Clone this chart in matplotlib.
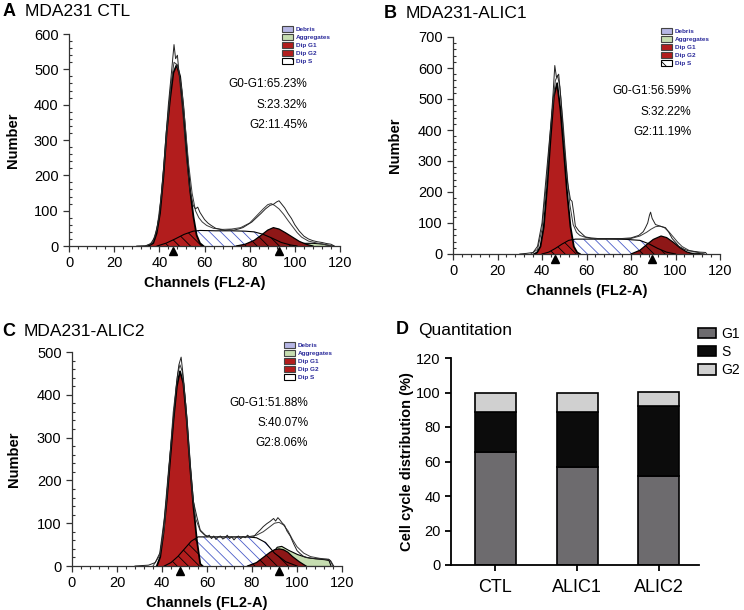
import numpy as np
import matplotlib
matplotlib.use("Agg")
import matplotlib.pyplot as plt
from matplotlib.patches import Patch
from matplotlib.ticker import MultipleLocator

plt.rcParams['font.family'] = ['Liberation Sans', 'DejaVu Sans']
plt.rcParams['hatch.linewidth'] = 0.6

# ---- cell-cycle percentages (G0-G1, S, G2) ----
groups = ["CTL", "ALIC1", "ALIC2"]
g1_pct = [65.23, 56.59, 51.88]
s_pct = [23.32, 32.22, 40.07]
g2_pct = [11.45, 11.19, 8.06]

# ---- panel A: MDA231 CTL ----
ctl_raw_ch = [30, 34, 36, 38, 40, 42, 44, 45.5, 46.5, 47.2, 48, 49, 50.5, 52, 53.5, 55, 56, 57, 58, 59,
              60, 61.5, 63, 65, 67, 69, 71, 73, 75, 77, 79, 81, 83, 85, 87, 89, 90.5, 92, 93, 94,
              95.5, 97, 98.5, 100, 102, 104, 106, 108, 110, 112, 114, 116, 117.5]
ctl_raw_n = [0, 1, 5, 25, 85, 230, 400, 500, 570, 530, 540, 470, 370, 250, 160, 115, 105, 110, 95, 85,
             75, 65, 58, 50, 47, 44, 46, 45, 48, 52, 60, 68, 80, 92, 105, 115, 118, 125, 128, 120,
             108, 92, 78, 60, 42, 28, 20, 15, 12, 10, 7, 5, 0]
ctl_fit_ch = [34, 37, 39, 41, 43, 45, 46.5, 47.5, 48.5, 50, 51.5, 53, 54.5, 56, 57.5, 59, 61, 64, 68, 72,
              76, 80, 83, 86, 88, 89.5, 91, 93, 95, 97, 99, 101, 103, 106, 110, 114, 117]
ctl_fit_n = [0, 10, 50, 150, 300, 450, 520, 515, 500, 440, 340, 230, 150, 100, 80, 68, 58, 50, 47, 48,
             52, 65, 85, 105, 117, 120, 115, 105, 90, 72, 55, 38, 25, 14, 8, 3, 0]
ctl_g1_ch = [35, 37.3, 38.8, 40.3, 41.8, 43.2, 44.7, 46.2, 47.7, 49.2, 50.6, 52.1, 53.6, 55.1, 56.5, 58, 59.5]
ctl_g1_n = [0, 8, 36, 93, 197, 320, 414, 490, 513, 480, 395, 272, 159, 83, 31, 8, 0]
ctl_s_ch = [39, 43, 47, 51, 55, 58, 65, 72, 78, 82, 86, 90, 94, 98, 101]
ctl_s_n = [0, 8, 20, 33, 42, 44, 43, 43, 42, 40, 33, 22, 10, 3, 0]
ctl_g2_ch = [74, 78, 82, 85, 88, 90.5, 93, 96, 99, 102, 105, 108]
ctl_g2_n = [0, 5, 16, 30, 45, 52, 48, 37, 25, 13, 5, 0]
ctl_agg_ch = [95, 100, 104, 108, 112, 115, 117]
ctl_agg_n = [0, 6, 9, 9, 7, 3, 0]
ctl_marks = [46, 93]

# ---- panel B: MDA231-ALIC1 ----
a1_raw_ch = [30, 33, 36, 38, 40, 42, 44, 45, 45.75, 46.5, 47.5, 48.5, 50, 51.5, 52.8, 53.5, 54.3, 55, 56.5, 58,
             59.5, 62, 65, 68.5, 72, 76, 80, 83.5, 85.5, 86.5, 87.5, 88.3, 88.8, 89.5, 91, 93, 95.5, 97, 98.5, 100,
             101.5, 104, 106, 109, 111, 113.5, 114]
a1_raw_n = [0, 2, 5, 25, 100, 260, 420, 520, 608, 570, 580, 500, 350, 230, 175, 170, 130, 90, 75, 65,
            55, 52, 50, 50, 50, 50, 52, 60, 72, 85, 100, 125, 135, 115, 95, 90, 85, 70, 50, 38,
            25, 15, 10, 8, 6, 5, 0]
a1_fit_ch = [35, 38, 40, 42, 44, 46, 47, 48, 49.5, 51, 52.5, 54, 55.5, 57, 59, 62, 66, 70, 75, 80,
             84, 87, 89, 91, 93, 95, 97, 99, 101, 103, 106, 110, 113]
a1_fit_n = [0, 15, 80, 230, 420, 560, 575, 540, 420, 280, 160, 95, 70, 60, 55, 50, 48, 48, 48, 50,
            58, 70, 80, 88, 90, 85, 72, 55, 38, 24, 12, 5, 0]
a1_g1_ch = [36.5, 37.8, 39.3, 40.8, 42.3, 43.8, 45.3, 46.8, 48.3, 49.8, 51.3, 52.8, 54.3, 55.8, 57]
a1_g1_n = [0, 5, 24, 88, 217, 368, 508, 551, 465, 336, 196, 88, 24, 5, 0]
a1_s_ch = [40, 43, 46, 49, 52, 55, 60, 70, 78, 84, 88, 92, 96, 100]
a1_s_n = [0, 6, 18, 32, 44, 48, 48, 48, 47, 44, 33, 18, 6, 0]
a1_g2_ch = [80, 84, 87, 90, 93.5, 96, 99, 102, 105, 108]
a1_g2_n = [0, 12, 30, 47, 58, 53, 38, 20, 7, 0]
a1_agg_ch = [100, 105, 110, 113]
a1_agg_n = [0, 4, 4, 0]
a1_marks = [45.75, 89.3]

# ---- panel C: MDA231-ALIC2 ----
a2_raw_ch = [28, 34, 37, 39, 41, 43, 45, 46.5, 47.5, 48.5, 49.5, 51, 52.5, 54, 55.5, 57, 58.5, 60, 61, 62,
             63, 64, 65, 66, 67, 68, 69, 70, 71, 72, 73, 74, 75, 76, 77, 78, 79, 80.7, 82, 83.6,
             85, 86.6, 88, 89.6, 90.5, 91.5, 92.5, 93.5, 94.5, 95.5, 97, 98.5, 100, 101.4, 103, 104.4, 106, 109, 112, 114,
             115, 116.3]
a2_raw_n = [0, 2, 8, 30, 110, 230, 340, 430, 470, 488, 440, 350, 240, 150, 115, 84, 76, 68, 72, 64,
            70, 62, 68, 70, 63, 66, 72, 64, 68, 61, 67, 70, 64, 69, 66, 72, 68, 68, 76, 84,
            92, 99, 104, 111, 105, 113, 107, 100, 95, 82, 70, 52, 36, 29, 22, 20, 18, 17, 16, 16,
            12, 0]
a2_fit_ch = [36, 39, 41, 43, 45, 47, 48, 49, 50.5, 52, 53.5, 55, 57, 59, 62, 66, 72, 78, 82, 85,
             88, 90, 92, 94, 96, 98, 100, 103, 106, 110, 113, 114.5, 116]
a2_fit_n = [0, 25, 90, 220, 360, 450, 470, 455, 380, 270, 170, 110, 82, 72, 68, 68, 68, 68, 72, 80,
            92, 100, 102, 96, 82, 62, 45, 30, 22, 18, 16, 14, 0]
a2_g1_ch = [37.7, 39.2, 40.6, 42.1, 43.6, 45.1, 46.6, 48, 49.5, 51, 52.5, 54, 55.5, 57, 58]
a2_g1_n = [0, 21, 76, 154, 248, 341, 420, 455, 427, 341, 232, 138, 60, 5, 0]
a2_s_ch = [41, 44, 47, 50, 53, 56, 62, 70, 78, 82, 86, 90, 95, 100]
a2_s_n = [0, 8, 22, 40, 58, 68, 68, 68, 68, 66, 55, 30, 10, 0]
a2_g2_ch = [78, 82, 85, 88, 90, 92, 94, 96, 98, 101, 104]
a2_g2_n = [0, 8, 20, 32, 38, 40, 38, 32, 22, 10, 0]
a2_agg_ch = [84, 88, 91, 93, 96, 100, 104, 108, 112, 114, 115]
a2_agg_n = [0, 25, 45, 47, 38, 28, 21, 18, 16, 14, 0]
a2_marks = [48, 92]

RED = "#b21d1d"
RED2 = "#8e1717"
GREEN = "#c6ddb0"
PURPLE = "#b6b6e4"
HATCH = "\\\\\\"

W, H = 744, 610
fig = plt.figure(figsize=(W / 100, H / 100), dpi=100)


def px_axes(x0, y0, x1, y1):
    # pixel box (left, top, right, bottom) -> figure axes
    return fig.add_axes([x0 / W, 1 - y1 / H, (x1 - x0) / W, (y1 - y0) / H])


def hist_panel(ax, raw, fit, g1, s, g2, agg, marks, ymax, pcts, txt_xy, ylab_x):
    ax.fill_between(*agg, facecolor=GREEN, edgecolor="black", lw=0.8, zorder=1.5)
    ax.fill_between(*s, facecolor="white", edgecolor="#4a5cc8", hatch=HATCH, lw=0, zorder=1)
    g1_poly = ax.fill_between(*g1, facecolor=RED, edgecolor="none", zorder=2)
    g2_poly = ax.fill_between(*g2, facecolor=RED2, edgecolor="none", zorder=2.2)
    for poly in (g1_poly, g2_poly):
        dark = ax.fill_between(*s, facecolor="none", edgecolor="black", hatch=HATCH, lw=0, zorder=3)
        dark.set_clip_path(poly.get_paths()[0], ax.transData)
    ax.plot(*s, color="black", lw=0.8, zorder=3.5)
    ax.plot(*g1, color="black", lw=1.3, zorder=3.5)
    ax.plot(*g2, color="black", lw=0.9, zorder=3.5)
    ax.plot(*fit, color="#3a3a3a", lw=0.7, zorder=4)
    ax.plot(*raw, color="#222222", lw=0.7, zorder=4.5)
    ax.plot(marks, [-ymax * 0.025] * 2, ls="none", marker="^", ms=6, color="black",
            clip_on=False, zorder=6)

    ax.set_xlim(0, 120)
    ax.set_ylim(0, ymax)
    for sp in ("top", "right"):
        ax.spines[sp].set_visible(False)
    for sp in ("left", "bottom"):
        ax.spines[sp].set_linewidth(0.9)
        ax.spines[sp].set_color("#333333")
    ax.xaxis.set_major_locator(MultipleLocator(20))
    ax.xaxis.set_minor_locator(MultipleLocator(4))
    ax.yaxis.set_major_locator(MultipleLocator(100))
    ax.yaxis.set_minor_locator(MultipleLocator(20))
    ax.tick_params(which="major", direction="out", length=4, width=0.9, labelsize=10.5, color="#333333")
    ax.tick_params(axis="x", which="minor", direction="out", length=2.5, width=0.8, color="#333333")
    ax.tick_params(axis="y", which="minor", direction="in", length=2.5, width=0.8, color="#333333")
    ax.set_xlabel("Channels (FL2-A)", fontsize=10.5, fontweight="bold")
    ax.set_ylabel("Number", fontsize=10.5, fontweight="bold")
    ax.xaxis.set_label_coords(0.5, -0.14)
    ax.yaxis.set_label_coords(ylab_x, 0.5)

    names = ["G0-G1", "S", "G2"]
    for i, (nm, v) in enumerate(zip(names, pcts)):
        ax.text(txt_xy[0], txt_xy[1][i], f"{nm}:{v:.2f}%", ha="right", va="center", fontsize=8.5)


def model_legend(x, y):
    handles = [Patch(facecolor=PURPLE, edgecolor="#444444", lw=0.8),
               Patch(facecolor=GREEN, edgecolor="#444444", lw=0.8),
               Patch(facecolor=RED, edgecolor="#444444", lw=0.8),
               Patch(facecolor=RED, edgecolor="#444444", lw=0.8),
               Patch(facecolor="white", edgecolor="black", hatch="\\", lw=0.8)]
    labels = ["Debris", "Aggregates", "Dip G1", "Dip G2", "Dip S"]
    leg = fig.legend(handles, labels, loc="upper left", bbox_to_anchor=(x / W, 1 - y / H),
                     frameon=False, fontsize=4.6, handlelength=1.7, handleheight=1.05,
                     labelspacing=0.28, handletextpad=0.5, borderpad=0, borderaxespad=0)
    for t in leg.get_texts():
        t.set_color("#2a2a9a")
        t.set_fontweight("bold")


def panel_title(x, y, letter, title):
    fig.text(x / W, 1 - y / H, letter, fontsize=13, fontweight="bold", va="center")
    fig.text((x + 22) / W, 1 - y / H, title, fontsize=12.5, va="center")


# ---- A ----
axA = px_axes(69, 34, 340, 246)
hist_panel(axA, (ctl_raw_ch, ctl_raw_n), (ctl_fit_ch, ctl_fit_n), (ctl_g1_ch, ctl_g1_n),
           (ctl_s_ch, ctl_s_n), (ctl_g2_ch, ctl_g2_n), (ctl_agg_ch, ctl_agg_n), ctl_marks, 600,
           [g1_pct[0], s_pct[0], g2_pct[0]], (105.5, [458, 399, 342]), -0.18)
model_legend(282, 26)
panel_title(3, 12, "A", "MDA231 CTL")

# ---- B ----
axB = px_axes(453, 37, 720, 254)
hist_panel(axB, (a1_raw_ch, a1_raw_n), (a1_fit_ch, a1_fit_n), (a1_g1_ch, a1_g1_n),
           (a1_s_ch, a1_s_n), (a1_g2_ch, a1_g2_n), (a1_agg_ch, a1_agg_n), a1_marks, 700,
           [g1_pct[1], s_pct[1], g2_pct[1]], (107, [527, 459, 394]), -0.19)
model_legend(661, 28)
panel_title(384, 13, "B", "MDA231-ALIC1")

# ---- C ----
axC = px_axes(72, 352, 342, 566)
hist_panel(axC, (a2_raw_ch, a2_raw_n), (a2_fit_ch, a2_fit_n), (a2_g1_ch, a2_g1_n),
           (a2_s_ch, a2_s_n), (a2_g2_ch, a2_g2_n), (a2_agg_ch, a2_agg_n), a2_marks, 500,
           [g1_pct[2], s_pct[2], g2_pct[2]], (105, [381, 334, 287]), -0.19)
model_legend(284, 342)
panel_title(2, 332, "C", "MDA231-ALIC2")

# ---- D: stacked bars ----
axD = px_axes(451, 358, 699, 565)
x = np.arange(len(groups))
bot_s = np.array(g1_pct)
bot_g2 = bot_s + np.array(s_pct)
axD.bar(x, g1_pct, width=0.5, color="#6d6b6e", edgecolor="black", lw=1.2, label="G1", zorder=2)
axD.bar(x, s_pct, width=0.5, bottom=bot_s, color="#0c0c0c", edgecolor="black", lw=1.2, label="S", zorder=2)
axD.bar(x, g2_pct, width=0.5, bottom=bot_g2, color="#d0d0d0", edgecolor="black", lw=1.2, label="G2", zorder=2)
axD.set_xlim(-0.54, 2.49)
axD.set_ylim(0, 120)
axD.yaxis.set_major_locator(MultipleLocator(20))
axD.set_xticks(x)
axD.set_xticklabels(groups, family=["Liberation Sans Narrow", "Liberation Sans"], fontsize=13)
for sp in ("top", "right"):
    axD.spines[sp].set_visible(False)
for sp in ("left", "bottom"):
    axD.spines[sp].set_linewidth(1.3)
axD.tick_params(direction="out", length=4, width=1.3, labelsize=10.5)
axD.tick_params(axis="x", labelsize=13, pad=6)
axD.set_ylabel("Cell cycle distribution (%)", fontsize=10.5, fontweight="bold")
axD.yaxis.set_label_coords(-0.15, 0.5)
fig.legend(*axD.get_legend_handles_labels(), loc="upper left", bbox_to_anchor=(698 / W, 1 - 327 / H),
           frameon=False, fontsize=10, handlelength=1.3, handleheight=0.75, labelspacing=0.3,
           handletextpad=0.4, borderpad=0, borderaxespad=0)
panel_title(396, 330, "D", "Quantitation")

fig.savefig("out.png", dpi=100)
